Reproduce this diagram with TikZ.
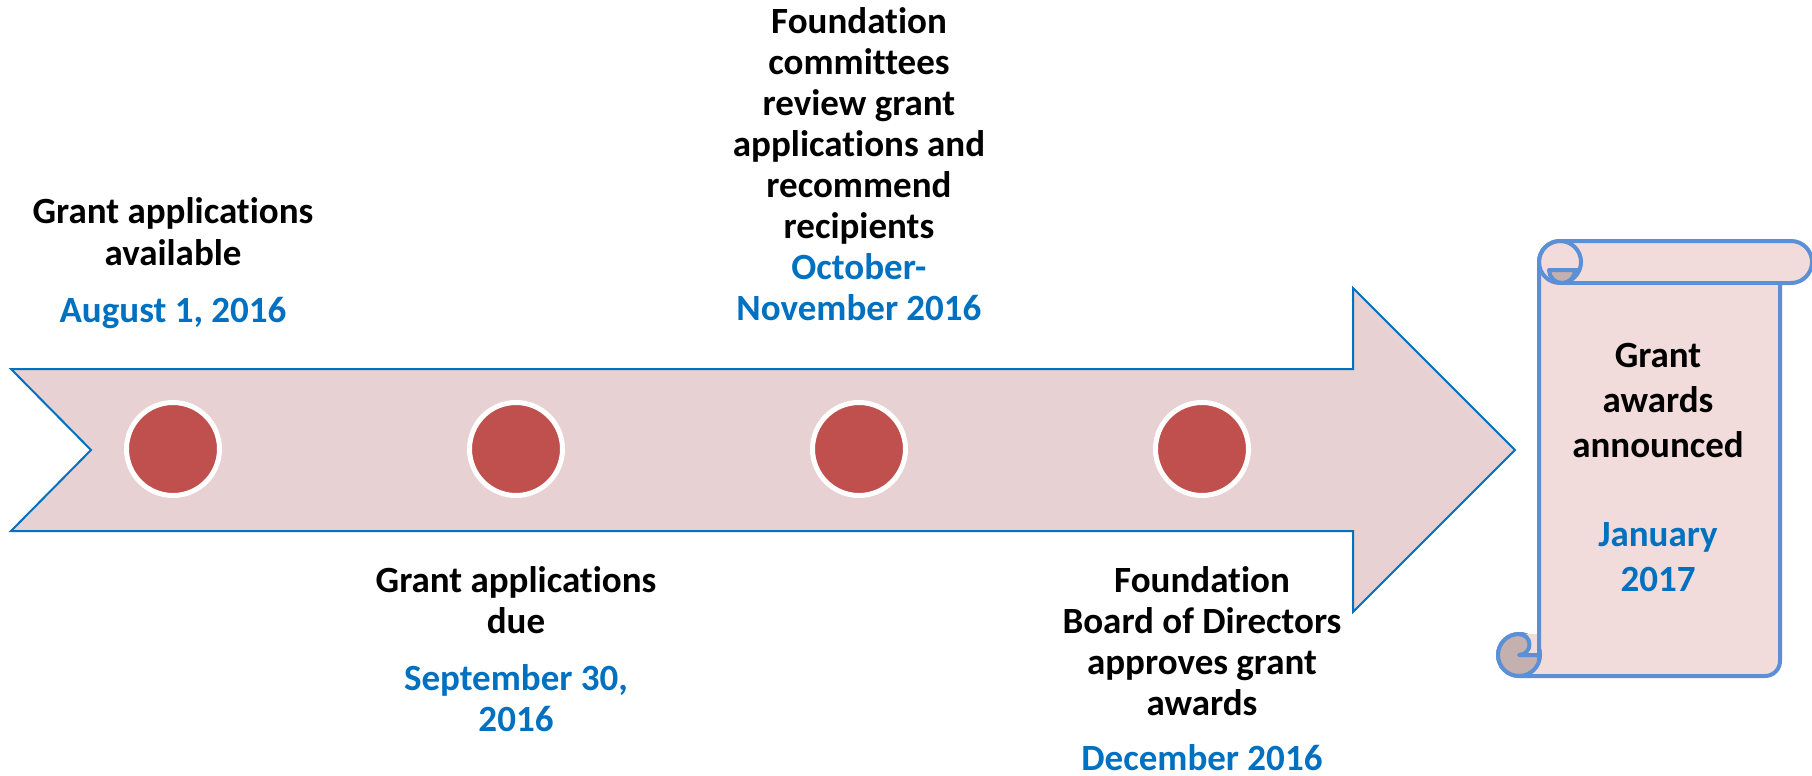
\documentclass[tikz,border=0pt]{standalone}
\usepackage{fontspec}
\setmainfont[Ligatures=NoCommon]{Carlito}
\usetikzlibrary{positioning}

\definecolor{arrowfill}{RGB}{231,209,210}
\definecolor{arrowline}{RGB}{0,112,192}
\definecolor{scrollfill}{RGB}{242,220,219}
\definecolor{scrollline}{RGB}{91,143,214}
\definecolor{curlfill}{RGB}{196,176,174}
\definecolor{dotred}{RGB}{192,80,77}
\definecolor{dateblue}{RGB}{0,112,192}

\begin{document}
\begin{tikzpicture}[x=1pt,y=-1pt,
  timeline/.style={fill=arrowfill,draw=arrowline,line width=2pt,line join=miter},
  scrolledge/.style={draw=scrollline,line width=4pt,line join=round},
  milestone/.style={circle,fill=dotred,draw=white,line width=5pt,minimum size=93pt,inner sep=0pt},
  stagetext/.style={align=center,font=\fontsize{37}{41}\selectfont\bfseries,inner sep=0pt,anchor=base}]
\useasboundingbox (0,0) rectangle (1812,776);

% timeline arrow
\draw[timeline] (11,369) -- (1353,369) -- (1353,288) -- (1515,450) -- (1353,612)
  -- (1353,531) -- (11,531) -- (91,450) -- cycle;

\foreach \x [count=\i] in {173,516,859,1202}
  \node[milestone] (m\i) at (\x,449) {};

% scroll
\filldraw[scrolledge,fill=scrollfill] (1539,655) -- (1539,262)
  arc[start angle=180,end angle=90,radius=21pt] -- (1791,241)
  arc[start angle=90,end angle=-90,radius=21pt] -- (1780,283) -- (1780,661)
  arc[start angle=0,end angle=-90,radius=15pt] -- (1519,676)
  arc[start angle=-90,end angle=-360,radius=21pt] -- cycle;
\draw[scrolledge] (1560,283) -- (1791,283);
% top curl
\draw[scrolledge] (1560,262) circle[radius=21pt];
\filldraw[scrolledge,fill=curlfill] (1579,270) -- (1549,270)
  arc[start angle=180,end angle=360,radius=13pt];
% bottom curl
\filldraw[scrolledge,fill=curlfill] (1519,655) circle[radius=21pt];
\fill[scrollfill] (1519,634) arc[start angle=90,end angle=-90,radius=10.5pt]
  -- (1538,655) -- (1538,634) -- cycle;
\draw[scrolledge] (1519,634) arc[start angle=90,end angle=-90,radius=10.5pt] -- (1539,655);
\draw[scrolledge] (1539,620) -- (1539,660);

% texts (anchored at the baseline of the last line)
\node[stagetext] (t1) at (173,322) {Grant applications\\[1pt]available\\[16pt]
  \textcolor{dateblue}{August 1, 2016}};
\node[stagetext] (t2) at (859,320) {Foundation\\committees\\review grant\\
  applications and\\recommend\\recipients\\
  \textcolor{dateblue}{October-}\\\textcolor{dateblue}{November 2016}};
\node[stagetext] (t3) at (516,731) {Grant applications\\due\\[15.5pt]
  \textcolor{dateblue}{September 30,}\\\textcolor{dateblue}{2016}};
\node[stagetext] (t4) at (1202,770) {Foundation\\Board of Directors\\
  approves grant\\awards\\[14pt]\textcolor{dateblue}{December 2016}};
\node[stagetext,font=\fontsize{37}{45}\selectfont\bfseries] (t5) at (1658,591)
  {Grant\\awards\\announced\\[44pt]\textcolor{dateblue}{January}\\
  \textcolor{dateblue}{2017}};
\end{tikzpicture}
\end{document}
